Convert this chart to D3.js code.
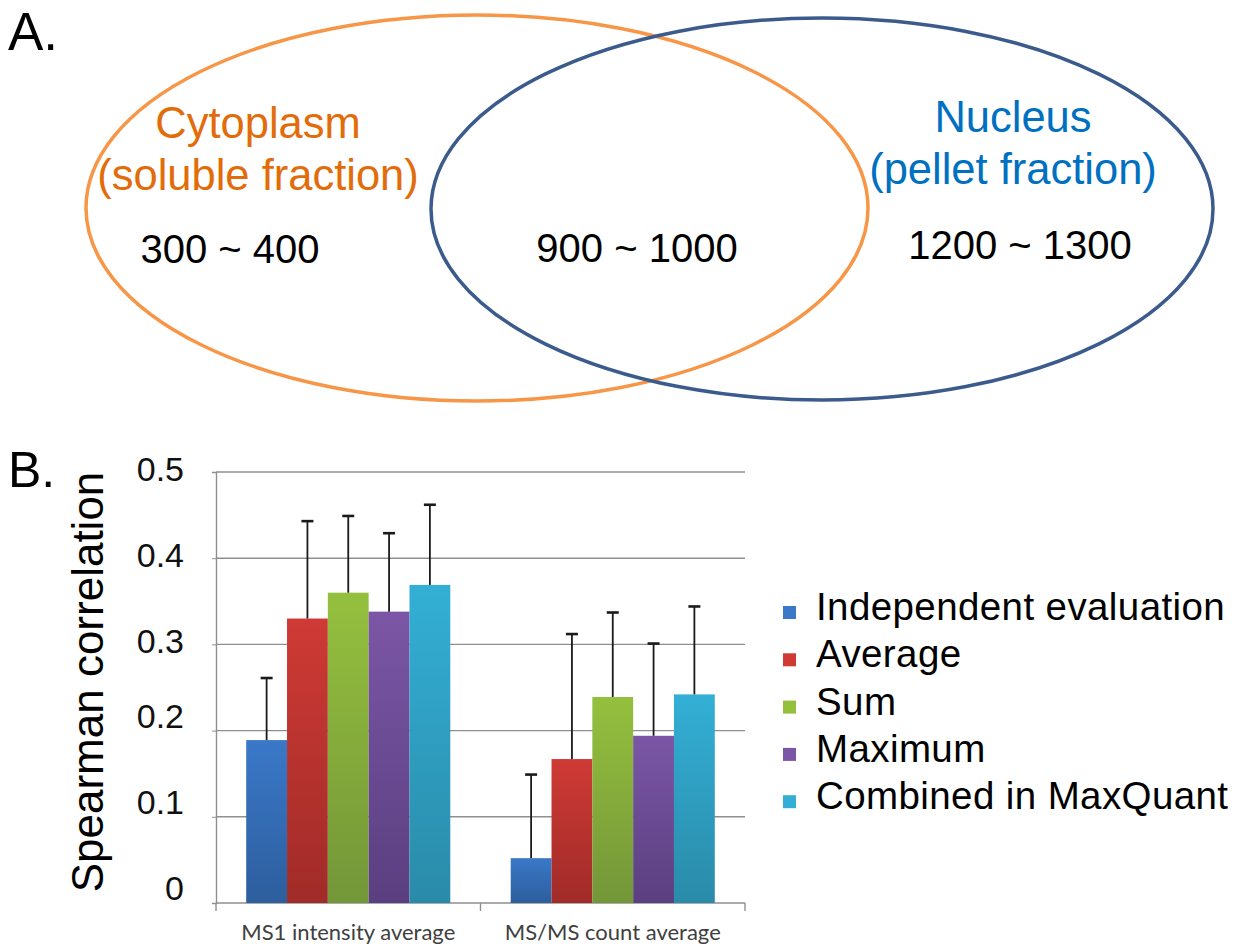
<!DOCTYPE html>
<html>
<head>
<meta charset="utf-8">
<script src="https://cdn.jsdelivr.net/npm/d3@7/dist/d3.min.js"></script>
<style>
  body { margin: 0; background: #fff; }
  text { font-family: "Liberation Sans", Arial, sans-serif; }
</style>
</head>
<body>
<svg width="1243" height="950"></svg>
<script>
// panel A data
const vennSets = ["Cytoplasm", "Nucleus"];
const vennSubs = ["(soluble fraction)", "(pellet fraction)"];
const vennCounts = ["300 ~ 400", "900 ~ 1000", "1200 ~ 1300"];

// panel B data
const categories = ["MS1 intensity average", "MS/MS count average"];
const series = ["Independent evaluation", "Average", "Sum", "Maximum", "Combined in MaxQuant"];
const means = [
  [0.189, 0.330, 0.360, 0.338, 0.369],
  [0.052, 0.167, 0.239, 0.194, 0.242]
];
const errors = [
  [0.072, 0.113, 0.089, 0.091, 0.093],
  [0.097, 0.145, 0.098, 0.107, 0.102]
];
const yTicks = [0, 0.1, 0.2, 0.3, 0.4, 0.5];
const colors = ["#3a78c8", "#cf3a35", "#95c03e", "#7b56a6", "#33afd5"];
const darks  = ["#2d5e9d", "#a02b28", "#739638", "#5a3f80", "#2a8ba9"];

const svg = d3.select("svg");

// ---------- A. venn ----------
svg.append("text").attr("x", 8).attr("y", 50).attr("font-size", 53).text("A.");

const ell = [
  {cx: 477, cy: 208, rx: 391, ry: 193, stroke: "#f79646"},
  {cx: 822, cy: 209, rx: 391, ry: 191, stroke: "#3b5b8c"}
];
svg.selectAll("ellipse").data(ell).join("ellipse")
  .attr("cx", d => d.cx).attr("cy", d => d.cy)
  .attr("rx", d => d.rx).attr("ry", d => d.ry)
  .attr("fill", "none").attr("stroke", d => d.stroke).attr("stroke-width", 3.5);

const labelPos = [{x: 258, y: 138, c: "#e36c0a"}, {x: 1013, y: 132, c: "#0070c0"}];
vennSets.forEach((s, i) => {
  const g = svg.append("text").attr("text-anchor", "middle").attr("font-size", 43.5)
    .attr("fill", labelPos[i].c);
  g.append("tspan").attr("x", labelPos[i].x).attr("y", labelPos[i].y).text(s);
  g.append("tspan").attr("x", labelPos[i].x).attr("y", labelPos[i].y + 52).text(vennSubs[i]);
});

const countPos = [[230, 263], [637, 262], [1020, 259]];
svg.selectAll(".cnt").data(vennCounts).join("text").attr("class", "cnt")
  .attr("x", (d, i) => countPos[i][0]).attr("y", (d, i) => countPos[i][1])
  .attr("text-anchor", "middle").attr("font-size", 40).attr("fill", "#000")
  .text(d => d);

// ---------- B. bar chart ----------
svg.append("text").attr("x", 8).attr("y", 487).attr("font-size", 50).text("B.");

const pLeft = 216, pRight = 745, pTop = 472, pBottom = 903;
const y = d3.scaleLinear().domain([0, 0.5]).range([pBottom, pTop]);
const x0 = d3.scaleBand().domain(categories).range([pLeft, pRight]).padding(0);
const x1 = d3.scaleBand().domain(series).range([0, x0.bandwidth()]).paddingInner(0).paddingOuter(0.74);

const defs = svg.append("defs");
series.forEach((s, i) => {
  const lg = defs.append("linearGradient").attr("id", "g" + i)
    .attr("x1", 0).attr("y1", 0).attr("x2", 0).attr("y2", 1);
  lg.append("stop").attr("offset", "0%").attr("stop-color", colors[i]);
  lg.append("stop").attr("offset", "100%").attr("stop-color", darks[i]);
});

// gridlines
svg.append("g").selectAll("line").data(yTicks.slice(1)).join("line")
  .attr("x1", pLeft).attr("x2", pRight)
  .attr("y1", d => y(d)).attr("y2", d => y(d))
  .attr("stroke", "#8f8f8f").attr("stroke-width", 1.4);

// y axis
const yAxis = svg.append("g").attr("transform", `translate(${pLeft},0)`)
  .call(d3.axisLeft(y).tickValues(yTicks).tickSize(4).tickPadding(28)
    .tickFormat(d => d === 0 ? "0" : d.toFixed(1)));
yAxis.select(".domain").attr("stroke", "#8f8f8f").attr("stroke-width", 1.4);
yAxis.selectAll(".tick line").attr("stroke", "#8f8f8f");
yAxis.selectAll(".tick text").attr("font-size", 34).attr("fill", "#111")
  .attr("font-family", "Liberation Sans, Arial, sans-serif")
  .attr("dy", d => d < 0.25 ? "-0.1em" : "0.25em");

// x baseline + category ticks
svg.append("line").attr("x1", pLeft).attr("x2", pRight).attr("y1", pBottom).attr("y2", pBottom)
  .attr("stroke", "#8f8f8f").attr("stroke-width", 1.4);
svg.append("g").selectAll("line").data([pLeft, pLeft + x0.step(), pRight]).join("line")
  .attr("x1", d => d).attr("x2", d => d).attr("y1", pBottom).attr("y2", pBottom + 8)
  .attr("stroke", "#8f8f8f").attr("stroke-width", 1.4);

const flat = [];
categories.forEach((c, ci) => series.forEach((s, si) =>
  flat.push({c, s, si, v: means[ci][si], e: errors[ci][si]})));

const bars = svg.append("g");
bars.selectAll("rect").data(flat).join("rect")
  .attr("x", d => x0(d.c) + x1(d.s))
  .attr("y", d => y(d.v))
  .attr("width", x1.bandwidth())
  .attr("height", d => pBottom - y(d.v))
  .attr("fill", d => `url(#g${d.si})`);

// error bars (upper only)
const eb = svg.append("g").attr("stroke", "#1a1a1a").attr("stroke-width", 1.8);
eb.selectAll(".v").data(flat).join("line").attr("class", "v")
  .attr("x1", d => x0(d.c) + x1(d.s) + x1.bandwidth() / 2)
  .attr("x2", d => x0(d.c) + x1(d.s) + x1.bandwidth() / 2)
  .attr("y1", d => y(d.v)).attr("y2", d => y(d.v + d.e));
eb.selectAll(".cap").data(flat).join("line").attr("class", "cap")
  .attr("x1", d => x0(d.c) + x1(d.s) + x1.bandwidth() / 2 - 6)
  .attr("x2", d => x0(d.c) + x1(d.s) + x1.bandwidth() / 2 + 6)
  .attr("y1", d => y(d.v + d.e)).attr("y2", d => y(d.v + d.e))
  .attr("stroke-width", 2.6);

// category labels
svg.selectAll(".cat").data(categories).join("text").attr("class", "cat")
  .attr("x", d => x0(d) + x0.bandwidth() / 2).attr("y", 940)
  .attr("text-anchor", "middle").attr("font-size", 22).attr("fill", "#404040")
  .style("font-family", "Lato, 'Open Sans', sans-serif")
  .text(d => d);

// y title
svg.append("text")
  .attr("transform", "translate(103,682) rotate(-90)")
  .attr("text-anchor", "middle").attr("font-size", 44).attr("fill", "#000")
  .text("Spearman correlation");

// legend
const leg = svg.append("g").selectAll("g").data(series).join("g")
  .attr("transform", (d, i) => `translate(783,${608 + i * 47.3})`);
leg.append("rect").attr("x", 0).attr("y", -2).attr("width", 13).attr("height", 13)
  .attr("fill", (d, i) => colors[i]);
leg.append("text").attr("x", 33).attr("y", 12).attr("font-size", 38.5)
  .attr("letter-spacing", 0.4).attr("fill", "#000")
  .text(d => d);
</script>
</body>
</html>
